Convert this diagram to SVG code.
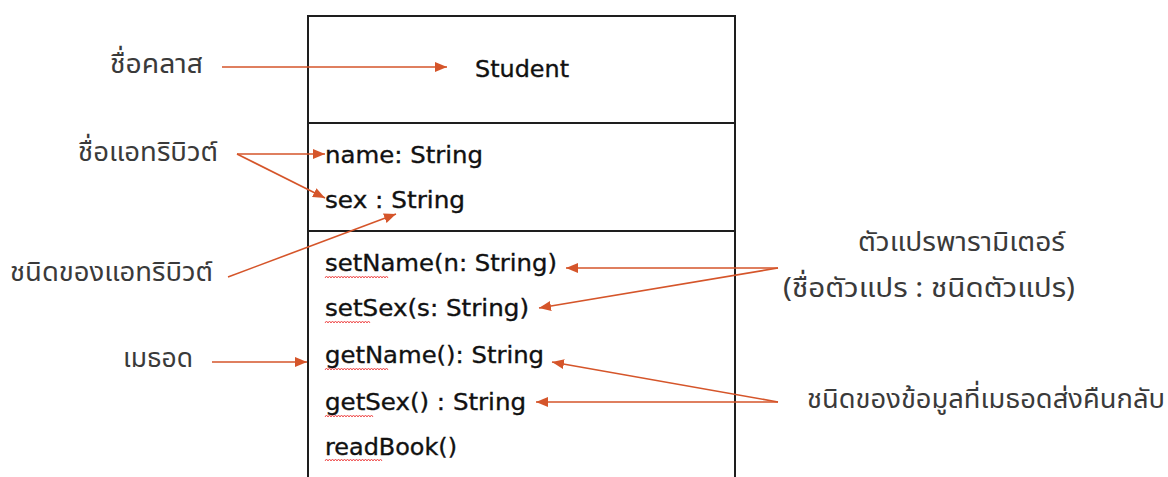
<svg xmlns="http://www.w3.org/2000/svg" width="1168" height="477" viewBox="0 0 1168 477">
  <style>
    .box { fill: #ffffff; stroke: #1e1e1e; stroke-width: 2; }
    .sep { stroke: #1e1e1e; stroke-width: 2; }
    .member { font-family: "DejaVu Sans", "Liberation Sans", sans-serif; font-size: 23px; fill: #111111; stroke: #111111; stroke-width: 0.35; }
    .label { font-family: "Noto Sans Thai", "Loma", "Garuda", "Tahoma", "Noto Sans", sans-serif; font-size: 27px; fill: #3a3a3a; }
    .conn { stroke: #d5552a; stroke-width: 1.6; fill: none; }
    .squiggle { stroke: #f05050; stroke-width: 1; fill: none; }
  </style>
  <defs>
    <marker id="arrow" viewBox="0 0 12 10" refX="12" refY="5" markerWidth="12" markerHeight="10" markerUnits="userSpaceOnUse" orient="auto">
      <path d="M0,0 L12,5 L0,10 Z" fill="#d5552a"/>
    </marker>
  </defs>
  <rect width="1168" height="477" fill="#ffffff"/>

  <!-- class box -->
  <g id="class-student">
    <rect class="box" x="308" y="16" width="427" height="470"/>
    <line class="sep" x1="308" y1="123" x2="735" y2="123"/>
    <line class="sep" x1="308" y1="231" x2="735" y2="231"/>
    <text class="member" x="522" y="77" text-anchor="middle" textLength="94" lengthAdjust="spacingAndGlyphs">Student</text>
  </g>

  <g id="attributes">
    <text class="member" x="325" y="163" textLength="158" lengthAdjust="spacingAndGlyphs">name: String</text>
    <text class="member" x="325" y="208" textLength="140" lengthAdjust="spacingAndGlyphs">sex : String</text>
  </g>

  <g id="methods">
    <text class="member" x="325" y="271" textLength="232" lengthAdjust="spacingAndGlyphs">setName(n: String)</text>
    <text class="member" x="325" y="316" textLength="204" lengthAdjust="spacingAndGlyphs">setSex(s: String)</text>
    <text class="member" x="325" y="363" textLength="219" lengthAdjust="spacingAndGlyphs">getName(): String</text>
    <text class="member" x="325" y="410" textLength="201" lengthAdjust="spacingAndGlyphs">getSex() : String</text>
    <text class="member" x="325" y="455" textLength="132" lengthAdjust="spacingAndGlyphs">readBook()</text>
    <!-- spell-check underlines -->
    <path class="squiggle" d="M325,278 l1.5,-2 l1.5,2 l1.5,-2 l1.5,2 l1.5,-2 l1.5,2 l1.5,-2 l1.5,2 l1.5,-2 l1.5,2 l1.5,-2 l1.5,2 l1.5,-2 l1.5,2 l1.5,-2 l1.5,2 l1.5,-2 l1.5,2 l1.5,-2 l1.5,2 l1.5,-2 l1.5,2 l1.5,-2 l1.5,2 l1.5,-2 l1.5,2 l1.5,-2 l1.5,2 l1.5,-2 l1.5,2 l1.5,-2 l1.5,2 l1.5,-2 l1.5,2 l1.5,-2 l1.5,2 l1.5,-2 l1.5,2 l1.5,-2 l1.5,2 l1.5,-2 l1.5,2"/>
    <path class="squiggle" d="M325,323 l1.5,-2 l1.5,2 l1.5,-2 l1.5,2 l1.5,-2 l1.5,2 l1.5,-2 l1.5,2 l1.5,-2 l1.5,2 l1.5,-2 l1.5,2 l1.5,-2 l1.5,2 l1.5,-2 l1.5,2 l1.5,-2 l1.5,2 l1.5,-2 l1.5,2 l1.5,-2 l1.5,2 l1.5,-2 l1.5,2 l1.5,-2 l1.5,2 l1.5,-2 l1.5,2 l1.5,-2 l1.5,2"/>
    <path class="squiggle" d="M325,370 l1.5,-2 l1.5,2 l1.5,-2 l1.5,2 l1.5,-2 l1.5,2 l1.5,-2 l1.5,2 l1.5,-2 l1.5,2 l1.5,-2 l1.5,2 l1.5,-2 l1.5,2 l1.5,-2 l1.5,2 l1.5,-2 l1.5,2 l1.5,-2 l1.5,2 l1.5,-2 l1.5,2 l1.5,-2 l1.5,2 l1.5,-2 l1.5,2 l1.5,-2 l1.5,2 l1.5,-2 l1.5,2 l1.5,-2 l1.5,2 l1.5,-2 l1.5,2 l1.5,-2 l1.5,2 l1.5,-2 l1.5,2 l1.5,-2 l1.5,2 l1.5,-2 l1.5,2"/>
    <path class="squiggle" d="M325,417 l1.5,-2 l1.5,2 l1.5,-2 l1.5,2 l1.5,-2 l1.5,2 l1.5,-2 l1.5,2 l1.5,-2 l1.5,2 l1.5,-2 l1.5,2 l1.5,-2 l1.5,2 l1.5,-2 l1.5,2 l1.5,-2 l1.5,2 l1.5,-2 l1.5,2 l1.5,-2 l1.5,2 l1.5,-2 l1.5,2 l1.5,-2 l1.5,2 l1.5,-2 l1.5,2 l1.5,-2 l1.5,2 l1.5,-2 l1.5,2"/>
    <path class="squiggle" d="M325,461 l1.5,-2 l1.5,2 l1.5,-2 l1.5,2 l1.5,-2 l1.5,2 l1.5,-2 l1.5,2 l1.5,-2 l1.5,2 l1.5,-2 l1.5,2 l1.5,-2 l1.5,2 l1.5,-2 l1.5,2 l1.5,-2 l1.5,2 l1.5,-2 l1.5,2 l1.5,-2 l1.5,2 l1.5,-2 l1.5,2 l1.5,-2 l1.5,2 l1.5,-2 l1.5,2 l1.5,-2 l1.5,2 l1.5,-2 l1.5,2 l1.5,-2 l1.5,2 l1.5,-2 l1.5,2 l1.5,-2 l1.5,2"/>
  </g>

  <!-- callout labels -->
  <g id="label-classname">
    <text class="label" x="110" y="73" textLength="93" lengthAdjust="spacingAndGlyphs">ชื่อคลาส</text>
  </g>
  <g id="label-attrname">
    <text class="label" x="78" y="161" textLength="140" lengthAdjust="spacingAndGlyphs">ชื่อแอทริบิวต์</text>
  </g>
  <g id="label-attrtype">
    <text class="label" x="10" y="281" textLength="203" lengthAdjust="spacingAndGlyphs">ชนิดของแอทริบิวต์</text>
  </g>
  <g id="label-method">
    <text class="label" x="123" y="367" textLength="70" lengthAdjust="spacingAndGlyphs">เมธอด</text>
  </g>
  <g id="label-params">
    <text class="label" x="858" y="251" textLength="207" lengthAdjust="spacingAndGlyphs">ตัวแปรพารามิเตอร์</text>
    <text class="label" x="783" y="297" textLength="292" lengthAdjust="spacingAndGlyphs">(ชื่อตัวแปร : ชนิดตัวแปร)</text>
  </g>
  <g id="label-return">
    <text class="label" x="807" y="408" textLength="358" lengthAdjust="spacingAndGlyphs">ชนิดของข้อมูลที่เมธอดส่งคืนกลับ</text>
  </g>

  <!-- connectors -->
  <g id="connectors">
    <line class="conn" x1="222" y1="67" x2="447" y2="67" marker-end="url(#arrow)"/>
    <line class="conn" x1="237" y1="154" x2="325" y2="154" marker-end="url(#arrow)"/>
    <line class="conn" x1="237" y1="154" x2="325" y2="198" marker-end="url(#arrow)"/>
    <line class="conn" x1="228" y1="277" x2="396" y2="214" marker-end="url(#arrow)"/>
    <line class="conn" x1="212" y1="362" x2="307" y2="362" marker-end="url(#arrow)"/>
    <line class="conn" x1="778" y1="268" x2="566" y2="268" marker-end="url(#arrow)"/>
    <line class="conn" x1="778" y1="268" x2="539" y2="308" marker-end="url(#arrow)"/>
    <line class="conn" x1="778" y1="402" x2="552" y2="362" marker-end="url(#arrow)"/>
    <line class="conn" x1="778" y1="402" x2="536" y2="402" marker-end="url(#arrow)"/>
  </g>
</svg>
